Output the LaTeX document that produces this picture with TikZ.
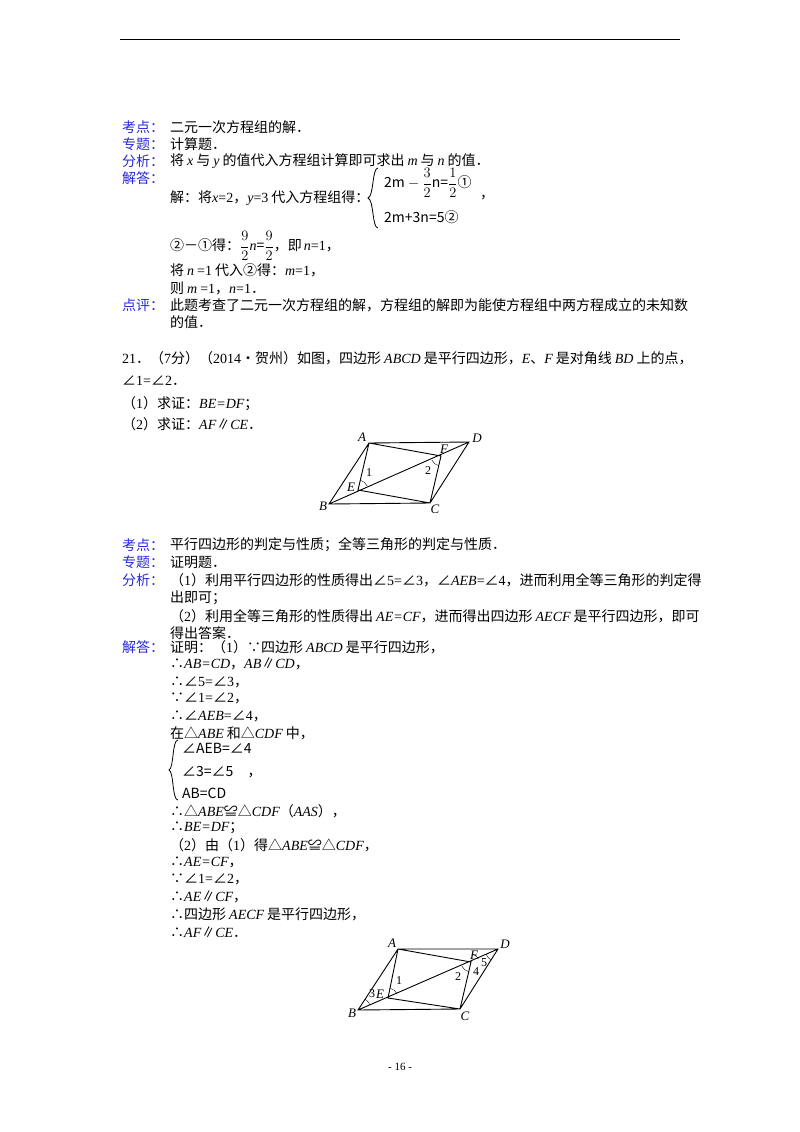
\documentclass[tikz,border=0pt]{standalone}
\usepackage{fontspec}
\setmainfont{Noto Sans CJK SC}
\newfontfamily\ser{Liberation Serif}
\newfontfamily\seri{Liberation Serif}[UprightFont=* Italic]
\newcommand{\iv}[1]{{\seri #1}}
\newcommand{\ivs}[1]{\hspace{3pt}{\seri #1}\hspace{3pt}}
\newcommand{\rv}[1]{{\ser #1}}
\definecolor{lab}{RGB}{40,40,220}
\begin{document}
\begin{tikzpicture}[x=1pt,y=-1pt,
  tx/.style={anchor=west,inner sep=0pt,font=\fontsize{14}{16}\selectfont},
  lb/.style={tx,text=lab},
  pl/.style={inner sep=0pt,font=\fontsize{13}{14}\selectfont\seri},
  nm/.style={inner sep=0pt,font=\fontsize{12}{13}\selectfont\ser},
  geo/.style={line width=0.9pt}]
\useasboundingbox (0,0) rectangle (800,1132);
\draw[line width=1pt] (120,40) -- (680,40);
% section 1
\node[lb] (k1) at (122,127) {考点：};
\node[tx] (k1t) at (170,127) {二元一次方程组的解．};
\node[lb] (z1) at (122,144) {专题：};
\node[tx] (z1t) at (170,144) {计算题．};
\node[lb] (f1) at (122,161) {分析：};
\node[tx] (f1t) at (170,161) {将\ivs{x}与\ivs{y}的值代入方程组计算即可求出\ivs{m}与\ivs{n}的值．};
\node[lb] (j1) at (122,178) {解答：};
\node[tx] (j1t) at (170,198) {解：将\iv{x}\rv{=2}，\iv{y}\rv{=3}\hspace{3pt}代入方程组得：};
\draw[line width=0.8pt] (378,168) .. controls (372,168) and (374,196) .. (368,198) .. controls (374,200) and (372,228) .. (378,228);
\node[tx] (e1) at (384,183) {2m $-$ $\displaystyle\frac{3}{2}$n=$\displaystyle\frac{1}{2}$①};
\node[tx] (e1c) at (480,198) {，};
\node[tx] (e2) at (384,217) {2m+3n=5②};
\node[tx] (r1) at (170,246) {②－①得：$\displaystyle\frac{9}{2}$\iv{n}=$\displaystyle\frac{9}{2}$，即\hspace{2pt}\iv{n}\rv{=1}，};
\node[tx] (r2) at (170,270) {将\ivs{n}\rv{=1}\hspace{3pt}代入②得：\iv{m}\rv{=1}，};
\node[tx] (r3) at (170,288) {则\ivs{m}\rv{=1}，\iv{n}\rv{=1}．};
\node[lb] (d1) at (122,305) {点评：};
\node[tx] (d1t) at (170,305) {此题考查了二元一次方程组的解，方程组的解即为能使方程组中两方程成立的未知数};
\node[tx] (d1u) at (170,322) {的值．};
% problem 21
\node[tx] (p1) at (122,358) {\rv{21}．（\rv{7}分）（\rv{2014}•贺州）如图，四边形\ivs{ABCD}是平行四边形，\iv{E}、\iv{F}\hspace{3pt}是对角线\ivs{BD}上的点，};
\node[tx] (p2) at (122,381) {∠\rv{1=}∠\rv{2}．};
\node[tx] (p3) at (122,404) {（\rv{1}）求证：\iv{BE=DF}；};
\node[tx] (p4) at (122,424) {（\rv{2}）求证：\iv{AF}∥\iv{CE}．};
% figure 1
\coordinate (A) at (369,443); \coordinate (D) at (469,442);
\coordinate (B) at (329,504); \coordinate (C) at (430,503);
\coordinate (E) at (358,490); \coordinate (F) at (441,456);
\draw[geo] (A)--(D)--(C)--(B)--cycle (B)--(D) (A)--(E)--(C) (A)--(F)--(C);
\draw (E) ++(-77:10) arc[start angle=-77,end angle=-23,radius=10];
\draw (F) ++(103:10) arc[start angle=103,end angle=157,radius=10];
\node[pl] (la) at (362,437) {A}; \node[pl] (ld) at (477,438) {D};
\node[pl] (lb) at (323,506) {B}; \node[pl] (lc) at (435,509) {C};
\node[pl] (le) at (351,487) {E}; \node[pl] (lf) at (444,449) {F};
\node[nm] (l1) at (369,473) {1}; \node[nm] (l2) at (428,471) {2};
% section 2
\node[lb] (k2) at (122,545) {考点：};
\node[tx] (k2t) at (170,545) {平行四边形的判定与性质；全等三角形的判定与性质．};
\node[lb] (z2) at (122,562) {专题：};
\node[tx] (z2t) at (170,562) {证明题．};
\node[lb] (f2) at (122,580) {分析：};
\node[tx] (f2a) at (170,580) {（\rv{1}）利用平行四边形的性质得出∠\rv{5=}∠\rv{3}，∠\iv{AEB}\rv{=}∠\rv{4}，进而利用全等三角形的判定得};
\node[tx] (f2b) at (170,598) {出即可；};
\node[tx] (f2c) at (170,616) {（\rv{2}）利用全等三角形的性质得出\hspace{3pt}\iv{AE=CF}，进而得出四边形\ivs{AECF}是平行四边形，即可};
\node[tx] (f2d) at (170,633) {得出答案．};
\node[lb] (j2) at (122,647) {解答：};
\node[tx] (s1) at (170,647) {证明：（\rv{1}）∵四边形\ivs{ABCD}是平行四边形，};
\node[tx] (s2) at (170,664) {∴\iv{AB=CD}，\iv{AB}∥\iv{CD}，};
\node[tx] (s3) at (170,682) {∴∠\rv{5=}∠\rv{3}，};
\node[tx] (s4) at (170,698) {∵∠\rv{1=}∠\rv{2}，};
\node[tx] (s5) at (170,716) {∴∠\iv{AEB}\rv{=}∠\rv{4}，};
\node[tx] (s6) at (170,733) {在△\iv{ABE}\hspace{3pt}和△\iv{CDF}\hspace{3pt}中，};
\draw[line width=0.8pt] (178,740) .. controls (172,740) and (174,768) .. (169,770) .. controls (174,772) and (172,800) .. (178,800);
\node[tx] (b1) at (182,748) {∠AEB=∠4};
\node[tx] (b2) at (182,772) {∠3=∠5\hspace{14pt}，};
\node[tx] (b3) at (182,793) {AB=CD};
\node[tx] (s7) at (170,811) {∴△\iv{ABE}≌△\iv{CDF}（\iv{AAS}），};
\node[tx] (s8) at (170,828) {∴\iv{BE=DF}；};
\node[tx] (s9) at (170,845) {（\rv{2}）由（\rv{1}）得△\iv{ABE}≌△\iv{CDF}，};
\node[tx] (s10) at (170,862) {∴\iv{AE=CF}，};
\node[tx] (s11) at (170,879) {∵∠\rv{1=}∠\rv{2}，};
\node[tx] (s12) at (170,897) {∴\iv{AE}∥\iv{CF}，};
\node[tx] (s13) at (170,914) {∴四边形\ivs{AECF}是平行四边形，};
\node[tx] (s14) at (170,932) {∴\iv{AF}∥\iv{CE}．};
% figure 2
\coordinate (A2) at (398,949); \coordinate (D2) at (498,949);
\coordinate (B2) at (358,1010); \coordinate (C2) at (460,1009);
\coordinate (E2) at (388,998); \coordinate (F2) at (471,962);
\draw[geo] (A2)--(D2)--(C2)--(B2)--cycle (B2)--(D2) (A2)--(E2)--(C2) (A2)--(F2)--(C2);
\draw (E2) ++(-77:10) arc[start angle=-77,end angle=-23,radius=10];
\draw (F2) ++(103:10) arc[start angle=103,end angle=157,radius=10];
\draw (F2) ++(-23:8) arc[start angle=-23,end angle=-78,radius=8];
\draw (B2) ++(-56:13) arc[start angle=-56,end angle=-23,radius=13];
\draw (D2) ++(124:13) arc[start angle=124,end angle=157,radius=13];
\node[pl] (la2) at (392,943) {A}; \node[pl] (ld2) at (505,944) {D};
\node[pl] (lb2) at (352,1013) {B}; \node[pl] (lc2) at (465,1016) {C};
\node[pl] (le2) at (380,994) {E}; \node[pl] (lf2) at (474,955) {F};
\node[nm] (l12) at (399,981) {1}; \node[nm] (l22) at (458,977) {2};
\node[nm] (l32) at (372,994) {3}; \node[nm] (l42) at (476,972) {4};
\node[nm] (l52) at (484,963) {5};
\node[inner sep=0pt,font=\fontsize{11}{12}\selectfont\ser] (pg) at (400,1067) {- 16 -};
\end{tikzpicture}
\end{document}
